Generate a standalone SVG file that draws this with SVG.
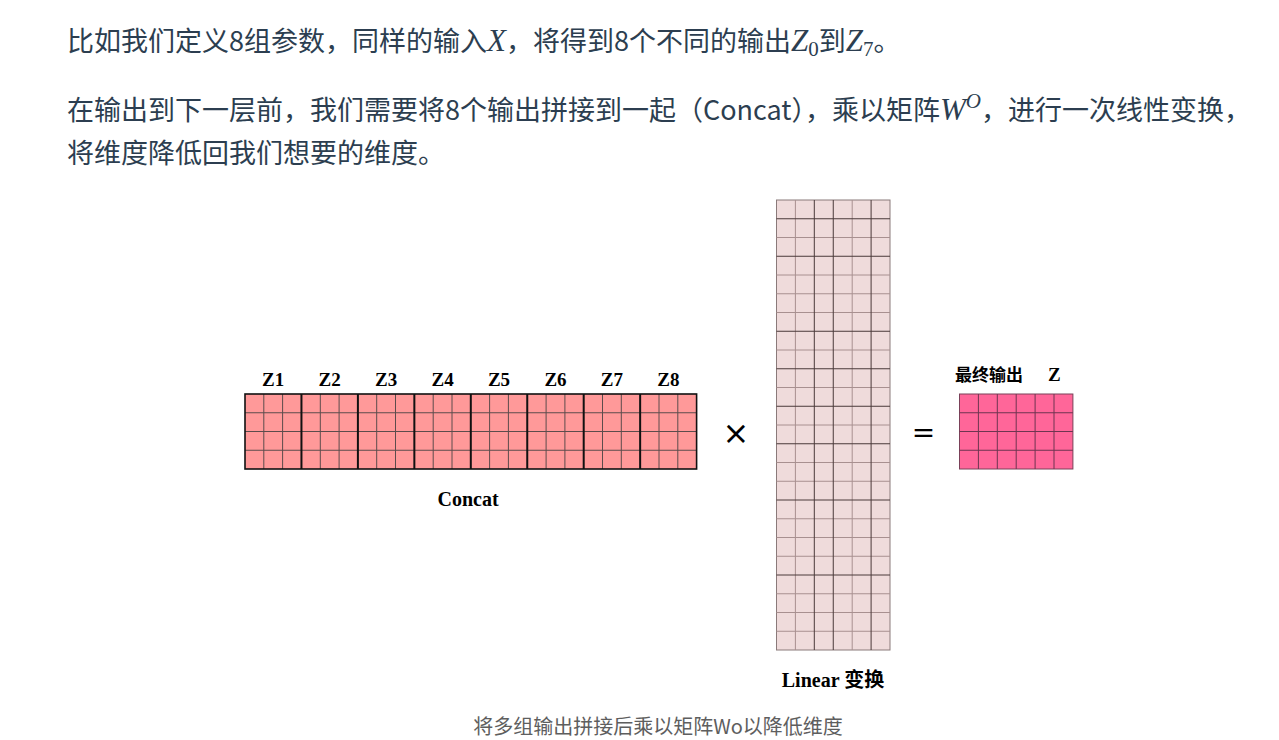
<svg xmlns="http://www.w3.org/2000/svg" width="1279" height="740" viewBox="0 0 1279 740">
<style>
.p{font-family:"Noto Sans CJK SC","Noto Sans",sans-serif;font-size:27px;fill:#2c3e50}
.m{font-family:"Liberation Serif",serif;font-style:italic;font-size:31px}
.s{font-family:"Liberation Serif",serif;font-size:21px}
.lb{font-family:"Liberation Serif","Noto Sans CJK SC",serif;font-weight:bold;fill:#000}
.op{font-family:"DejaVu Sans",sans-serif;fill:#000;text-anchor:middle}
.cap{font-family:"Noto Sans CJK SC","Noto Sans",sans-serif;font-size:20px;fill:#5e5e5e;text-anchor:middle}
.thin{fill:none;stroke:#5c4c4c;stroke-width:1}
.blk{fill:none;stroke:#111;stroke-width:2}
.wd{fill:none;stroke:#4a3a3a;stroke-width:1}
.wl{fill:none;stroke:#a89090;stroke-width:1}
.rl{fill:none;stroke:#6e3550;stroke-width:1}
</style>
<rect width="1279" height="740" fill="#fff"/>
<g id="paragraph">
<text class="p" x="67" y="51">比如我们定义8组参数，同样的输入<tspan class="m">X</tspan>，将得到8个不同的输出<tspan class="m">Z</tspan><tspan class="s" dy="5">0</tspan><tspan dy="-5">到</tspan><tspan class="m">Z</tspan><tspan class="s" dy="5">7</tspan><tspan dy="-5">。</tspan></text>
<text class="p" x="67" y="120">在输出到下一层前，我们需要将8个输出拼接到一起（Concat），乘以矩阵<tspan class="m">W</tspan><tspan class="s" style="font-style:italic" dy="-12">O</tspan><tspan dy="12">，进行一次线性变换，</tspan></text>
<text class="p" x="67" y="163">将维度降低回我们想要的维度。</text>
</g>
<g id="concat">
<rect x="245" y="394" width="451.6" height="75" fill="#ff9999"/>
<path class="thin" d="M263.8 394V469M282.6 394V469M320.3 394V469M339.1 394V469M376.7 394V469M395.5 394V469M433.2 394V469M452 394V469M489.6 394V469M508.4 394V469M546.1 394V469M564.9 394V469M602.5 394V469M621.3 394V469M659 394V469M677.8 394V469M245 412.75H696.6M245 431.5H696.6M245 450.25H696.6"/>
<path class="blk" d="M301.45 394V469M357.9 394V469M414.35 394V469M470.8 394V469M527.25 394V469M583.7 394V469M640.15 394V469"/>
<rect x="245" y="394" width="451.6" height="75" fill="none" stroke="#111" stroke-width="1.6"/>
<g class="lb" font-size="19" text-anchor="middle">
<text x="273.2" y="386">Z1</text><text x="329.7" y="386">Z2</text><text x="386.1" y="386">Z3</text><text x="442.6" y="386">Z4</text><text x="499" y="386">Z5</text><text x="555.5" y="386">Z6</text><text x="611.9" y="386">Z7</text><text x="668.4" y="386">Z8</text>
</g>
<text class="lb" x="468" y="506" font-size="20" text-anchor="middle">Concat</text>
</g>
<g id="times"><text class="op" x="736" y="443.5" font-size="32">×</text></g>
<g id="wmatrix">
<rect x="776.5" y="200" width="113.5" height="450" fill="#efdbdb" stroke="#8a7a7a" stroke-width="1"/>
<path class="wl" d="M795.4 200V650M852.2 200V650M776.5 237.5H890M776.5 275H890M776.5 293.75H890M776.5 312.5H890M776.5 350H890M776.5 387.5H890M776.5 425H890M776.5 462.5H890M776.5 481.25H890M776.5 518.75H890M776.5 537.5H890M776.5 556.25H890M776.5 612.5H890M776.5 631.25H890"/>
<path class="wl" stroke-width="2" d="M776.5 593.75H890"/>
<path class="wd" d="M814.3 200V650M833.25 200V650M871.1 200V650M776.5 218.75H890M776.5 331.25H890M776.5 368.75H890M776.5 406.25H890M776.5 443.75H890M776.5 500H890M776.5 575H890"/>
<path class="wd" stroke-width="1.6" d="M776.5 256.25H890"/>
<text class="lb" x="833" y="687" font-size="20" text-anchor="middle">Linear 变换</text>
</g>
<g id="equals"><text class="op" x="923.5" y="442" font-size="28">=</text></g>
<g id="result">
<rect x="959.5" y="394" width="113.4" height="75" fill="#ff6699" stroke="#7a4058" stroke-width="1"/>
<path class="rl" d="M978.4 394V469M997.3 394V469M1016.2 394V469M1035.1 394V469M1054 394V469M959.5 412.75H1072.9M959.5 431.5H1072.9M959.5 450.25H1072.9"/>
<text class="lb" x="955" y="381" font-size="17">最终输出</text>
<text class="lb" x="1048" y="381" font-size="19">Z</text>
</g>
<text class="cap" x="658" y="734">将多组输出拼接后乘以矩阵Wo以降低维度</text>
</svg>
